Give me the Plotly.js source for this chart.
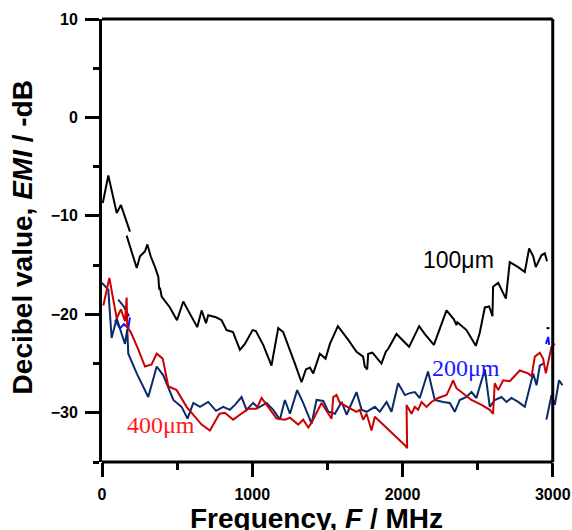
<!DOCTYPE html>
<html>
<head>
<meta charset="utf-8">
<script src="https://cdn.plot.ly/plotly-3.0.1.min.js"></script>
<style>html,body{margin:0;padding:0;background:#fff;}#chart{width:572px;height:530px;}</style>
</head>
<body>
<div id="chart"></div>
<script>
// ---- data ----
const black100X = [5, 42, 98, 126, 186, null, 164, 231, 253, 286, 302, 324, 353, 375, 381, 386, 397, 452, 499, 541, 580, 634, 663, 692, 707, 759, 796, 829, 872, 918, 951, 1002, 1024, 1073, 1128, 1173, 1206, 1251, 1284, 1328, 1357, 1384, 1406, 1450, 1488, 1517, 1570, 1639, 1694, 1738, 1749, 1765, 1772, 1800, 1860, 1889, 1905, 1960, 2044, 2111, 2149, 2209, 2293, 2342, 2359, 2365, 2426, 2488, 2514, 2548, 2577, 2599, 2603, 2637, 2688, 2714, 2770, 2814, 2843, 2870, 2887, 2925, 2947, 2962, null, 2958, 2978];
const black100Y = [-8.7, -5.9, -9.7, -8.9, -11.6, null, -12.0, -15.3, -14.1, -13.6, -12.9, -14.1, -15.2, -16.2, -17.5, -17.3, -18.2, -19.3, -20.6, -18.7, -19.8, -21.3, -19.6, -20.9, -20.1, -20.3, -20.6, -21.6, -21.8, -23.6, -23.0, -21.6, -21.7, -23.1, -25.2, -21.4, -21.8, -23.6, -25.0, -26.9, -25.6, -25.4, -26.0, -24.0, -24.5, -23.0, -21.2, -22.6, -23.8, -24.3, -25.3, -25.6, -24.0, -23.9, -25.0, -23.8, -23.5, -22.0, -23.3, -21.2, -22.0, -23.1, -19.6, -20.5, -21.1, -20.8, -21.6, -23.2, -21.9, -19.3, -19.2, -20.2, -17.2, -16.8, -18.4, -14.7, -15.2, -15.7, -13.3, -14.1, -15.2, -14.0, -13.8, -14.6, null, -21.4, -21.4];

const blue200X = [86, 120, 146, 175, 186, null, 2955, 2965, 2970, 2976];
const blue200Y = [-20.6, -21.4, -21.0, -21.4, -20.3, null, -23.0, -22.4, -22.3, -23.1];

const navyX = [0, 42, 64, 98, 131, 153, 168, 175, 231, 308, 364, 408, 475, 530, 569, 608, 652, 707, 759, 807, 851, 885, 929, 962, 1006, 1040, 1095, 1140, 1184, 1217, 1251, 1299, 1339, 1395, 1428, 1473, 1506, 1550, 1595, 1628, 1694, 1728, 1761, 1816, 1849, 1894, 1927, 1971, 2016, 2049, 2082, 2115, 2170, 2215, 2271, 2315, 2348, 2381, 2426, 2459, 2492, 2548, 2581, 2614, 2659, 2692, 2725, 2770, 2814, 2870, 2892, 2914, 2936, null, 108, 145, 180, null, 2958, 2992, 3014, 3042, 3065];
const navyY = [-16.8, -17.5, -22.4, -20.4, -22.0, -23.0, -21.5, -24.0, -26.0, -28.4, -25.3, -26.2, -28.7, -29.4, -30.6, -29.0, -29.4, -28.9, -29.8, -29.4, -29.7, -29.2, -28.4, -29.7, -29.0, -29.5, -29.0, -29.7, -30.7, -28.7, -30.1, -27.7, -29.0, -31.1, -28.7, -28.8, -29.9, -30.1, -28.9, -30.2, -27.9, -29.7, -29.9, -29.4, -29.9, -28.9, -29.9, -27.0, -28.2, -28.0, -27.9, -28.5, -25.8, -28.7, -28.9, -29.0, -29.9, -28.7, -28.4, -27.9, -28.5, -25.6, -29.4, -28.7, -28.4, -28.9, -28.5, -28.9, -29.4, -26.0, -27.2, -25.2, -25.0, null, -18.5, -19.2, -20.2, null, -30.7, -28.2, -29.2, -26.7, -27.2];

const red400X = [9, 49, 75, 98, 126, 153, 164, 168, 191, 240, 286, 330, 364, 404, 441, 497, 563, 608, 663, 718, 763, 782, 818, 873, 918, 973, 1029, 1062, 1106, 1162, 1217, 1251, 1306, 1339, 1373, 1395, 1461, 1528, 1539, 1561, 1584, 1650, 1694, 1716, 1738, 1761, 1794, 1816, 1949, 2016, 2031, 2027, 2060, 2082, 2104, 2127, 2160, 2193, 2237, 2293, 2315, 2337, 2359, 2404, 2459, 2526, 2581, 2603, 2614, 2637, 2670, 2714, 2781, 2836, 2859, 2881, 2914, 2936, 2954, 2992, 3014];
const red400Y = [-19.1, -16.3, -18.5, -20.4, -19.5, -20.7, -18.3, -21.3, -21.8, -23.5, -25.3, -25.1, -24.0, -24.5, -27.3, -27.7, -29.4, -30.2, -31.2, -31.8, -30.7, -30.1, -30.0, -30.7, -30.2, -29.6, -29.6, -28.5, -29.4, -30.6, -30.7, -30.5, -31.2, -30.7, -31.5, -31.0, -29.0, -30.6, -28.4, -28.2, -29.0, -29.5, -29.9, -29.7, -30.7, -30.1, -31.8, -30.4, -32.3, -33.3, -33.6, -29.2, -30.1, -29.4, -29.7, -28.9, -29.4, -28.9, -28.5, -28.2, -27.5, -26.7, -27.5, -28.0, -28.7, -29.2, -29.7, -30.1, -27.0, -27.7, -26.7, -26.8, -25.7, -26.0, -26.3, -24.3, -23.9, -24.5, -26.0, -23.3, -23.0];

const seriesLabels = ['100\u03bcm', '200\u03bcm', '400\u03bcm'];
const xTitle = 'Frequency, <i>F</i> / MHz';
const yTitle = 'Decibel value, <i>EMI</i> / -dB';

// ---- chart ----
const X_MAX = 3075, X_AXIS_END = 3000;
const lw = 2;
const traces = [
  {x: black100X, y: black100Y, mode: 'lines', line: {color: '#000000', width: lw}, name: seriesLabels[0]},
  {x: blue200X, y: blue200Y, mode: 'lines', line: {color: '#1010ff', width: lw}, name: seriesLabels[1]},
  {x: navyX, y: navyY, mode: 'lines', line: {color: '#0b2a6b', width: lw}, name: 'navy'},
  {x: red400X, y: red400Y, mode: 'lines', line: {color: '#cc0000', width: lw}, name: seriesLabels[2]}
];

const tickFont = {family: 'Liberation Sans, Arial, sans-serif', size: 16, color: '#000', weight: 'bold'};
const titleFont = {family: 'Liberation Sans, Arial, sans-serif', size: 28, color: '#000', weight: 'bold'};
const xEndPaper = X_AXIS_END / X_MAX;

const layout = {
  width: 572, height: 530,
  margin: {l: 102, r: 8, t: 19, b: 68, pad: 0},
  paper_bgcolor: '#fff', plot_bgcolor: '#fff',
  showlegend: false,
  xaxis: {
    range: [0, X_MAX], showgrid: false, zeroline: false, showline: false,
    tickmode: 'linear', tick0: 0, dtick: 1000,
    ticks: 'outside', ticklen: 14, tickwidth: 3, tickcolor: '#000',
    minor: {dtick: 500, tick0: 0, ticks: 'outside', ticklen: 7, tickwidth: 3, tickcolor: '#000', showgrid: false},
    tickfont: tickFont, ticklabelstandoff: 4
  },
  yaxis: {
    range: [-35, 10], showgrid: false, zeroline: false,
    showline: true, linewidth: 3, linecolor: '#000',
    tickmode: 'linear', tick0: 0, dtick: 10,
    ticks: 'outside', ticklen: 14, tickwidth: 3, tickcolor: '#000',
    minor: {dtick: 5, tick0: 0, ticks: 'outside', ticklen: 6, tickwidth: 3, tickcolor: '#000', showgrid: false},
    tickfont: tickFont, ticklabelstandoff: 4
  },
  shapes: [
    {type: 'line', xref: 'paper', yref: 'paper', x0: 0, x1: xEndPaper, y0: 0, y1: 0, line: {color: '#000', width: 3}},
    {type: 'line', xref: 'paper', yref: 'paper', x0: 0, x1: xEndPaper, y0: 1, y1: 1, line: {color: '#000', width: 3}},
    {type: 'line', xref: 'paper', yref: 'paper', x0: xEndPaper, x1: xEndPaper, y0: 0, y1: 1, line: {color: '#000', width: 3}}
  ],
  annotations: [
    {text: seriesLabels[0], xref: 'x', yref: 'y', x: 2375, y: -14.5, showarrow: false,
     font: {family: 'Liberation Sans, Arial, sans-serif', size: 23, color: '#000'}},
    {text: seriesLabels[1], xref: 'x', yref: 'y', x: 2421, y: -25.5, showarrow: false,
     font: {family: 'Liberation Serif, Times New Roman, serif', size: 24, color: '#1a1aff'}},
    {text: seriesLabels[2], xref: 'x', yref: 'y', x: 390, y: -31.2, showarrow: false,
     font: {family: 'Liberation Serif, Times New Roman, serif', size: 24, color: '#ff1a1a'}},
    {text: xTitle, xref: 'paper', yref: 'paper', x: 0.464, y: -0.128, xanchor: 'center', yanchor: 'middle', showarrow: false, font: titleFont},
    {text: yTitle, xref: 'paper', yref: 'paper', x: -0.172, y: 0.506, xanchor: 'center', yanchor: 'middle', textangle: -90, showarrow: false, font: titleFont}
  ]
};

Plotly.newPlot('chart', traces, layout, {displayModeBar: false, staticPlot: true});
</script>
</body>
</html>
